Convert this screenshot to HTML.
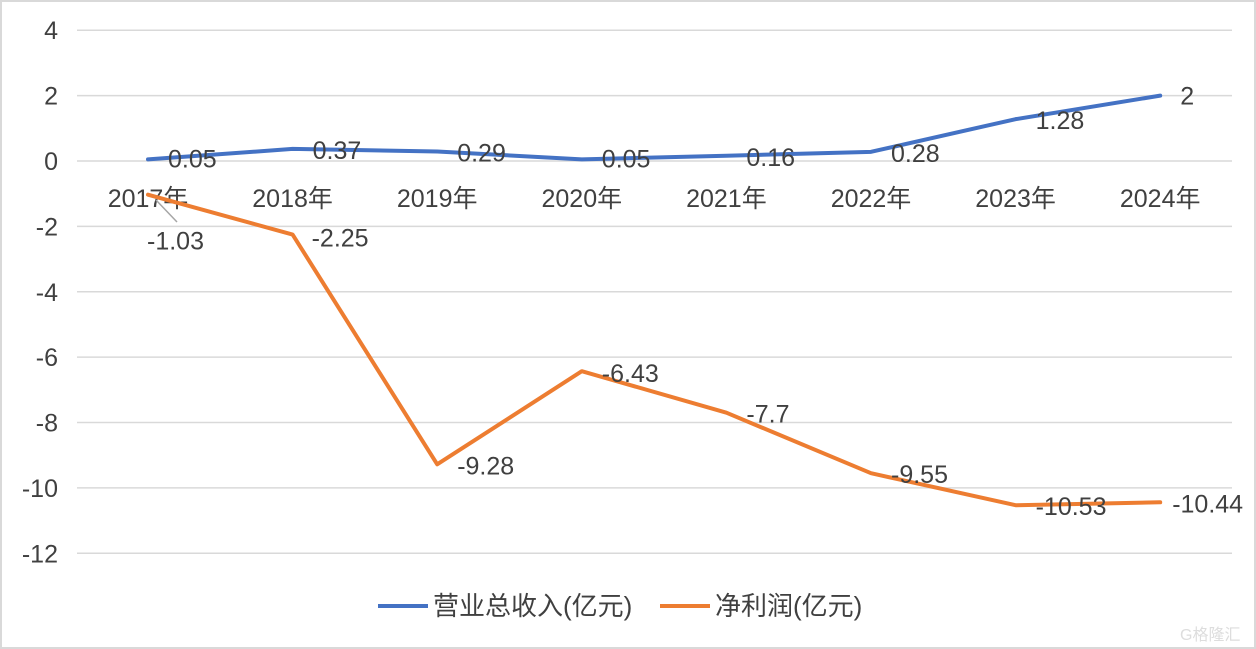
<!DOCTYPE html>
<html><head><meta charset="utf-8"><style>
body{margin:0;background:#fff}
svg{display:block;font-family:"Liberation Sans","Noto Sans CJK SC",sans-serif}
</style></head><body>
<svg id="c" width="1256" height="649">
<rect x="1" y="1" width="1254" height="647" fill="#fff" stroke="#d9d9d9" stroke-width="2"/>
<g id="grid"></g><g id="lines"></g><g id="labels"></g>
<g font-size="26" fill="#404040">
<line x1="378" y1="606" x2="428" y2="606" stroke="#4472C4" stroke-width="4"/>
<text x="433" y="615">营业总收入(亿元)</text>
<line x1="660" y1="606" x2="710" y2="606" stroke="#ED7D31" stroke-width="4"/>
<text x="715" y="615">净利润(亿元)</text>
</g>
<text x="1180" y="640" font-size="16" fill="#ddd">G格隆汇</text>
</svg>
<script>
const categories=["2017年","2018年","2019年","2020年","2021年","2022年","2023年","2024年"];
const revenue=[0.05,0.37,0.29,0.05,0.16,0.28,1.28,2];
const profit=[-1.03,-2.25,-9.28,-6.43,-7.7,-9.55,-10.53,-10.44];
const yTicks=[4,2,0,-2,-4,-6,-8,-10,-12];
const NS="http://www.w3.org/2000/svg";
const x=i=>148+i*144.6;
const y=v=>161-v*32.69;
function mk(tag,attrs,parent,txt){const e=document.createElementNS(NS,tag);for(const k in attrs)e.setAttribute(k,attrs[k]);if(txt!==undefined)e.textContent=txt;document.getElementById(parent).appendChild(e);return e;}
yTicks.forEach(t=>{
 const l=mk("line",{x1:77,x2:1232,y1:y(t),y2:y(t),stroke:"#d9d9d9","stroke-width":1.5},"grid");
 
 
 const tx=mk("text",{x:58,y:y(t)+9,"text-anchor":"end","font-size":25,fill:"#404040"},"grid",String(t));
 
 
});
categories.forEach((c,i)=>{
 const tx=mk("text",{x:x(i),y:207,"text-anchor":"middle","font-size":25,fill:"#404040"},"grid",c);
 
 
});
function series(d,color,name){
 const p=mk("polyline",{points:d.map((v,i)=>x(i)+","+y(v)).join(" "),fill:"none",stroke:color,"stroke-width":4,"stroke-linejoin":"round","stroke-linecap":"round"},"lines");
 
 
}
series(revenue,"#4472C4","revenue-line");
series(profit,"#ED7D31","profit-line");
const ln=mk("line",{x1:156,y1:200,x2:177,y2:222,stroke:"#a6a6a6","stroke-width":1.5},"labels");


revenue.forEach((v,i)=>{
 const t=mk("text",{x:x(i)+20,y:y(v)+10,"font-size":25,fill:"#404040"},"labels",String(v));
 if(i===0||i===3){t.setAttribute("y",y(v)+8);}
 if(i===7){t.setAttribute("y",y(v)+9);}
 if(i===6){t.setAttribute("x",x(i)+20);t.setAttribute("y",y(v)+10);}
 
 
});
profit.forEach((v,i)=>{
 let dx=20,dy=10;
 if(i===0){dx=-1;dy=55;}
 if(i===1){dx=19;dy=12;}
 if(i===3){dx=20;dy=11;}
 if(i===4){dx=20;dy=10;}
 if(i===5){dx=20;dy=10;}
 if(i===6){dx=20;dy=10;}
 if(i===7){dx=12;dy=10;}
 const t=mk("text",{x:x(i)+dx,y:y(v)+dy,"font-size":25,fill:"#404040"},"labels",String(v));
 
 
});
</script>
</body></html>
